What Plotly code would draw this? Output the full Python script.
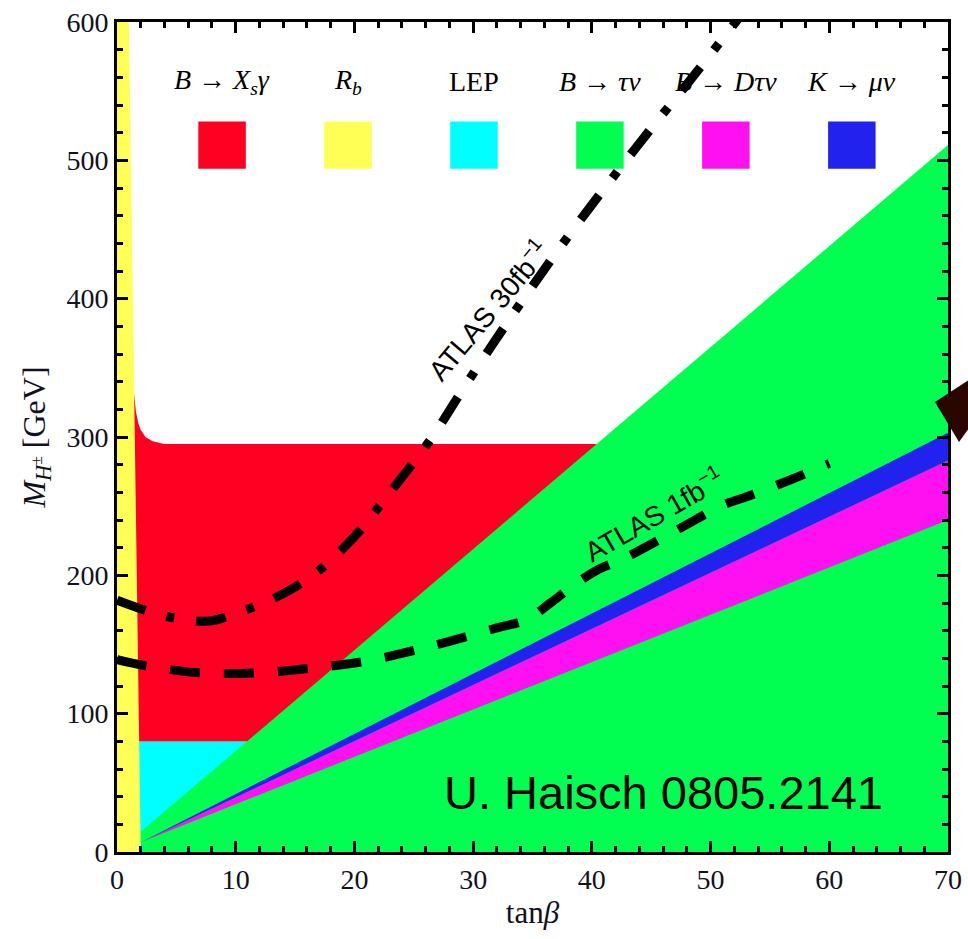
import plotly.graph_objects as go

# ---------------- data ----------------
# R_b excluded strip (left edge of plot): boundary x as a function of M_H
rb_edge_y = [0, 150, 300, 450, 600]
rb_edge_x = [2.0, 1.75, 1.5, 1.25, 1.0]

# B -> X_s gamma: excluded below this curve
bsg_x = [1.0, 1.43, 1.6, 1.8, 2.0, 2.4, 3.0, 4.0, 70]
bsg_y = [0, 332, 318, 310, 305, 300, 297, 295, 295]

# LEP bound
lep_x = [1.5, 12.0]
lep_mass = 80

# B -> tau nu wedge (upper edge)
btn_x = [2.0, 70]
btn_upper = [14.6, 511]

# B -> D tau nu band
bdtn_x = [2.1, 70]
bdtn_lo = [7.5, 240]
bdtn_hi = [7.5, 283]

# K -> mu nu band
kmn_x = [2.1, 70]
kmn_lo = [7.5, 283]
kmn_hi = [7.5, 303]

# ATLAS reach curves
atlas30_x = [0, 3.0, 5.3, 7.8, 10.2, 12.6, 14.7, 16.8, 20.0, 23.0, 26.4, 29.1,
             31.8, 34.5, 38.0, 41.8, 44.9, 48.1, 52.3]
atlas30_y = [182, 173, 168.5, 167, 173, 181, 190, 202, 228, 260, 298, 334,
             369, 403, 445, 488, 522, 556, 602]
atlas1_x = [0, 2.5, 7.0, 11.8, 16.5, 21.0, 27.0, 32.0, 34.5, 36.5, 38.5, 40.5,
            42.8, 46.8, 51.1, 53.1, 57.0, 60.0]
atlas1_y = [139, 134.5, 129.5, 129.5, 133, 138, 150, 162, 168, 180, 193, 204,
            212.6, 231, 251, 257, 270, 281]

# legend
legend_labels = ["<i>B</i> → <i>X<sub>s</sub>γ</i>", "<i>R<sub>b</sub></i>", "LEP",
                 "<i>B</i> → <i>τν</i>", "<i>B</i> → <i>Dτν</i>", "<i>K</i> → <i>μν</i>"]
legend_colors = ["#ff0022", "#ffff55", "#00ffff", "#00ff50", "#ff10f0", "#2222ee"]

C_RED, C_YEL, C_CYAN, C_GRN, C_MAG, C_BLUE = legend_colors

fig = go.Figure()

def poly(xs, ys, color):
    fig.add_trace(go.Scatter(x=xs, y=ys, mode="lines", fill="toself",
                             fillcolor=color, line=dict(width=0, color=color),
                             hoverinfo="skip", showlegend=False))

# red B->Xs gamma
poly(bsg_x + [bsg_x[-1], bsg_x[0]], bsg_y + [0, 0], C_RED)
# cyan LEP
poly([lep_x[0], lep_x[0], lep_x[1], lep_x[1]], [0, lep_mass, lep_mass, 0], C_CYAN)
# green B->tau nu
poly([btn_x[0], btn_x[0], btn_x[1], btn_x[1]], [0, btn_upper[0], btn_upper[1], 0], C_GRN)
# magenta B->D tau nu
poly(bdtn_x + bdtn_x[::-1], bdtn_hi + bdtn_lo[::-1], C_MAG)
# blue K->mu nu
poly(kmn_x + kmn_x[::-1], kmn_hi + kmn_lo[::-1], C_BLUE)
# yellow R_b
poly([0] + rb_edge_x + [0], [0] + rb_edge_y + [600], C_YEL)

# ATLAS curves
fig.add_trace(go.Scatter(x=atlas30_x, y=atlas30_y, mode="lines",
                         line=dict(color="black", width=9, shape="spline",
                                   dash="30px,22px,8px,22px"),
                         hoverinfo="skip", showlegend=False))
fig.add_trace(go.Scatter(x=atlas1_x, y=atlas1_y, mode="lines",
                         line=dict(color="black", width=9, shape="spline",
                                   dash="30px,24px"),
                         hoverinfo="skip", showlegend=False))

# legend squares + labels
for i, (lab, col) in enumerate(zip(legend_labels, legend_colors)):
    cx = 8.85 + 10.61 * i
    fig.add_shape(type="rect", x0=cx - 2.0, x1=cx + 2.0, y0=494, y1=528,
                  xref="x", yref="y", fillcolor=col, line=dict(width=0), layer="above")
    fig.add_annotation(x=cx, y=557, text=lab, showarrow=False,
                       font=dict(family="Liberation Serif", size=28, color="black"))

# curve labels
fig.add_annotation(x=31.2, y=392, text="ATLAS 30fb<sup>−1</sup>", textangle=-50,
                   showarrow=False, font=dict(family="Liberation Sans", size=28, color="black"))
fig.add_annotation(x=45.2, y=244, text="ATLAS 1fb<sup>−1</sup>", textangle=-30,
                   showarrow=False, font=dict(family="Liberation Sans", size=28, color="black"))
fig.add_annotation(x=46.0, y=43, text="U. Haisch 0805.2141", showarrow=False,
                   font=dict(family="Liberation Sans", size=47, color="black"))

# decorative arrowhead at right edge (paper coords)
def px2paper(px, py):
    return (px - 117) / 831, (852 - py) / 830
pts = [px2paper(935, 402), px2paper(972, 378), px2paper(972, 424), px2paper(959, 442)]
path = "M {} {} L {} {} L {} {} L {} {} Z".format(*[v for p in pts for v in p])
fig.add_shape(type="path", path=path, xref="paper", yref="paper",
              fillcolor="#2b0500", line=dict(width=0), layer="above")

axis_common = dict(showline=True, linewidth=3, linecolor="black", mirror="ticks",
                   ticks="inside", ticklen=11, tickwidth=3, tickcolor="black",
                   showgrid=False, zeroline=False, automargin=False,
                   tickfont=dict(family="Liberation Serif", size=28, color="#111122"))

fig.update_layout(
    width=968, height=939,
    margin=dict(l=117, r=20, t=22, b=87),
    plot_bgcolor="white", paper_bgcolor="white",
    xaxis=dict(range=[0, 70], dtick=10, tick0=0,
               minor=dict(dtick=2, ticklen=6, tickwidth=3, tickcolor="black", ticks="inside"),
               title=dict(text="tan<i>β</i>", standoff=8,
                          font=dict(family="Liberation Serif", size=31, color="#111122")),
               **axis_common),
    yaxis=dict(range=[0, 600], dtick=100, tick0=0,
               minor=dict(dtick=20, ticklen=6, tickwidth=3, tickcolor="black", ticks="inside"),
               title=dict(text="<i>M</i><sub><i>H</i><sup>±</sup></sub> [GeV]", standoff=12,
                          font=dict(family="Liberation Serif", size=32, color="#111122")),
               **axis_common),
)

fig.write_html("out.html")
